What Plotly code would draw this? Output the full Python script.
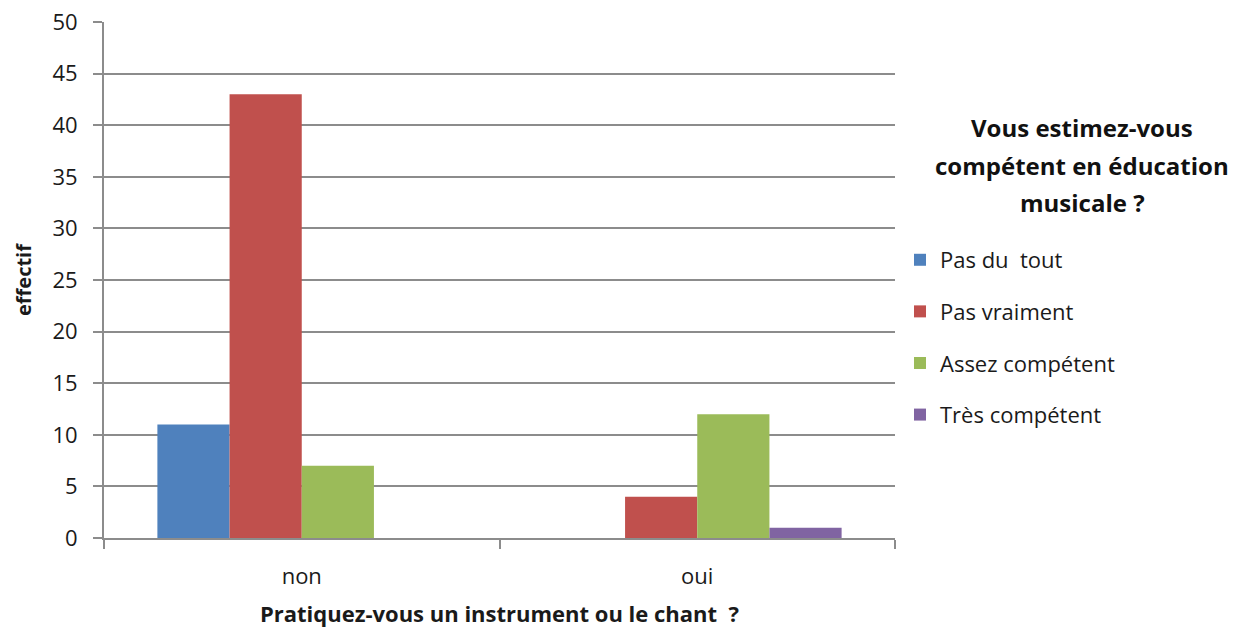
import plotly.graph_objects as go

# Réponses par pratique musicale
categories = ["non", "oui"]
series_names = ["Pas du  tout", "Pas vraiment", "Assez compétent", "Très compétent"]
pas_du_tout = [11, 0]
pas_vraiment = [43, 4]
assez_competent = [7, 12]
tres_competent = [0, 1]
y_ticks = [0, 5, 10, 15, 20, 25, 30, 35, 40, 45, 50]

values = [pas_du_tout, pas_vraiment, assez_competent, tres_competent]
colors = ["#4F81BD", "#C0504D", "#9BBB59", "#8064A2"]

FONT = "Open Sans"
TEXT = "#1a1a1a"
GRID = "#8c8c8c"

fig = go.Figure()
for i, (name, vals, col) in enumerate(zip(series_names, values, colors)):
    fig.add_trace(go.Bar(
        x=categories, y=vals, name=name,
        marker=dict(color=col, line=dict(width=0)),
        legendgroup=f"g{i}",
    ))

fig.update_layout(
    width=1244, height=629,
    margin=dict(l=104, r=349, t=22, b=91, autoexpand=False),
    paper_bgcolor="white", plot_bgcolor="white",
    barmode="group", bargap=0.27, bargroupgap=0,
    font=dict(family=FONT, color=TEXT),
    showlegend=True,
    legend=dict(
        x=1.0063, y=0.5795, xanchor="left", yanchor="top",
        font=dict(size=22, family=FONT, color=TEXT),
        tracegroupgap=20, traceorder="grouped",
        itemwidth=30, bgcolor="rgba(0,0,0,0)",
    ),
    xaxis=dict(
        type="category", showgrid=False, automargin=False,
        showline=True, linecolor=GRID, linewidth=2,
        ticks="outside", tickson="boundaries", ticklen=9,
        tickcolor=GRID, tickwidth=2, ticklabelstandoff=18,
        tickfont=dict(size=22, family=FONT, color=TEXT),
        title=dict(text="<b>Pratiquez-vous un instrument ou le chant  ?</b>",
                   font=dict(size=22, family=FONT, color=TEXT), standoff=17),
    ),
    yaxis=dict(
        range=[0, 50], tickvals=y_ticks, automargin=False,
        showgrid=True, gridcolor=GRID, gridwidth=2,
        showline=True, linecolor=GRID, linewidth=2,
        ticks="outside", ticklen=9, tickcolor=GRID, tickwidth=2,
        ticklabelstandoff=11,
        zeroline=False,
        tickfont=dict(size=22, family=FONT, color=TEXT),
        title=dict(text="<b>effectif</b>",
                   font=dict(size=20, family=FONT, color=TEXT), standoff=15),
    ),
)

# Titre de la légende, une ligne par annotation
legend_title = ["Vous estimez-vous", "compétent en éducation", "musicale ?"]
for k, line in enumerate(legend_title):
    fig.add_annotation(
        text=f"<b>{line}</b>", xref="paper", yref="paper",
        x=1.237, y=(538 - (127 + 38 * k)) / 516,
        xanchor="center", yanchor="middle", showarrow=False,
        font=dict(size=24, family=FONT, color="#111111"),
    )

fig.write_html("out.html")
